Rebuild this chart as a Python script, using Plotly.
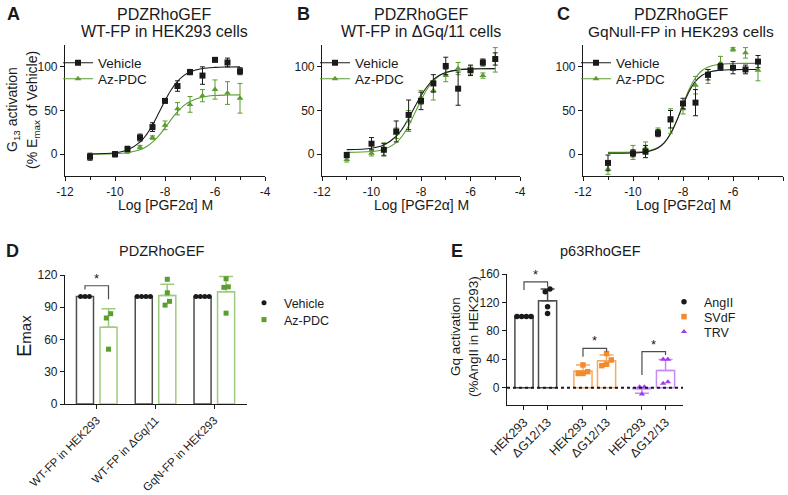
import numpy as np
import plotly.graph_objects as go

W, H = 788, 495
FONT = "Arial, 'Liberation Sans', sans-serif"
INK = "#1a1a1a"
GREY = "#4d4d4d"
GREEN = "#5a9e2f"
GREEN_LIGHT = "#9dcc7e"
ORANGE = "#f28b2c"
ORANGE_LIGHT = "#f6a965"
PURPLE = "#a33cf0"
PURPLE_LIGHT = "#c68cf3"

# ---------------- data: concentration-response panels A-C ----------------
log_dose = [-11, -10, -9.5, -9, -8.5, -8, -7.5, -7, -6.5, -6, -5.5, -5]
fit_x = [-11, -10, -9.5, -9, -8.75, -8.5, -8.25, -8, -7.75, -7.5, -7.25, -7, -6.5, -6, -5.5, -5]

a_veh = [-3, 0, 6, 19, 31, 61, 78, 94, 90, 108, 105, 95]
a_veh_err = [4, 3, 3, 4, 5, 2, 6, 3, 10, 2, 5, 4]
a_az = [-2, -1, 3, 8, 19, 33, 52, 57, 67, 74, 70, 64]
a_az_err = [3, 2, 2, 2, 2, 5, 7, 9, 7, 11, 13, 17]
a_veh_fit = [0.2, 1.6, 4.8, 13.7, 22, 33.4, 47.1, 61.3, 73.8, 83.4, 89.9, 94.1, 98, 99.4, 99.8, 99.9]
a_az_fit = [0.1, 0.5, 1.7, 5, 8.4, 13.7, 21, 30.1, 39.8, 48.6, 55.6, 60.4, 65.4, 67.2, 67.7, 67.9]

b_veh = [-1, 12, 5, 26, 45, 61, 81, 101, 75, 96, 105, 109]
b_veh_err = [3, 7, 7, 12, 17, 10, 10, 10, 19, 6, 4, 7]
b_az = [-6, 1, 6, 24, 38, 65, 73, 90, 98, 96, 90, 108]
b_az_err = [3, 3, 7, 6, 12, 8, 11, 7, 7, 5, 3, 14]
b_veh_fit = [5.2, 6.8, 10.5, 20.5, 29.3, 41, 54.2, 67, 77.5, 85.3, 90.4, 93.6, 96.5, 97.5, 97.8, 98]
b_az_fit = [2.1, 3, 5.4, 13.2, 21.1, 32.6, 47, 61.9, 74.7, 84, 90, 93.6, 96.7, 97.6, 97.9, 98]

c_veh = [-10, 1, 3, 24, 40, 58, 59, 91, 100, 99, 97, 106]
c_veh_err = [9, 4, 7, 4, 10, 6, 15, 6, 4, 7, 5, 7]
c_az = [-17, 2, 7, 26, 38, 52, 79, 89, 104, 120, 116, 96]
c_az_err = [6, 8, 7, 4, 14, 6, 10, 8, 8, 2, 6, 12]
c_veh_fit = [1, 1.3, 2.4, 7.1, 13, 23.3, 38.4, 56.1, 72, 83.3, 90, 93.6, 96.2, 96.8, 97, 97]
c_az_fit = [2, 2.3, 3.3, 7.6, 13.2, 23, 38.2, 56.8, 74.5, 87.5, 95.5, 99.8, 103, 103.8, 104, 104]

dose_ticks = [-12, -10, -8, -6, -4]

# ---------------- data: panel D (Emax) ----------------
d_groups = ["WT-FP in HEK293", "WT-FP in \u0394Gq/11", "GqN-FP in HEK293"]
d_veh_mean = [100, 100, 100]
d_veh_pts = [[100, 100, 100], [100, 100, 100, 100], [100, 100, 100, 100]]
d_az_mean = [71.5, 101, 104.5]
d_az_sd = [17, 10.5, 14]
d_az_pts = [[84, 80, 51], [116, 103.5, 95.5, 92], [116.5, 109, 108.5, 84.5]]

# ---------------- data: panel E (p63RhoGEF) ----------------
e_cells = ["HEK293", "\u0394G12/13"]
e_ligands = ["AngII", "SVdF", "TRV"]
e_mean = [[100, 122.5], [23.5, 38], [-1.5, 24]]
e_sd = [[0, 16.5], [8.5, 8], [6.5, 15.5]]
e_pts = [
    [[100, 100, 100, 100], [139, 135, 114, 104.5]],
    [[32, 22.5, 20, 20], [48, 39, 31, 33]],
    [[1, -9, 1], [40, 40, 6, 8]],
]

# significance brackets: (group, left foot, top, right foot)
d_brackets = [(0, 106.5, 110, 97.5)]
e_brackets = [(0, 137.5, 149, 142), (1, 43.6, 55.4, 50.7), (2, 17.8, 50.7, 46)]


def fx(x):
    return x / W


def fy(y):
    return 1 - y / H


def swarm(vals, thr, step):
    """simple beeswarm: spread clustered values horizontally"""
    order = np.argsort(vals)
    offs = np.zeros(len(vals))
    cluster = [order[0]]
    for i in order[1:]:
        if abs(vals[i] - vals[cluster[-1]]) < thr:
            cluster.append(i)
        else:
            n = len(cluster)
            for k, j in enumerate(cluster):
                offs[j] = (k - (n - 1) / 2) * step
            cluster = [i]
    n = len(cluster)
    for k, j in enumerate(cluster):
        offs[j] = (k - (n - 1) / 2) * step
    return offs


fig = go.Figure()
annotations = []
shapes = []
legends = {}
leg_count = [0]


def label(x, y, s, size, rot=0, bold=False, xanchor="center", yanchor="middle"):
    annotations.append(dict(
        xref="paper", yref="paper", x=fx(x), y=fy(y), text=f"<b>{s}</b>" if bold else s,
        showarrow=False, textangle=rot, xanchor=xanchor, yanchor=yanchor,
        font=dict(family=FONT, size=size, color=INK)))


def new_legend(x, y, size):
    """one legend box per entry so the entries can be spaced like the original"""
    leg_count[0] += 1
    name = "legend" if leg_count[0] == 1 else f"legend{leg_count[0]}"
    legends[name] = dict(bgcolor="rgba(0,0,0,0)", itemwidth=30, x=fx(x), y=fy(y),
                         xanchor="left", yanchor="middle",
                         font=dict(family=FONT, size=size, color=INK))
    return name


# ---------------- panels A-C ----------------
panels = [
    ("", 58, a_veh, a_veh_err, a_az, a_az_err, a_veh_fit, a_az_fit),
    ("2", 315, b_veh, b_veh_err, b_az, b_az_err, b_veh_fit, b_az_fit),
    ("3", 576, c_veh, c_veh_err, c_az, c_az_err, c_veh_fit, c_az_fit),
]
for n, leg_x, veh, veh_err, az, az_err, veh_fit, az_fit in panels:
    ax = dict(xaxis="x" + n, yaxis="y" + n)
    fig.add_trace(go.Scatter(x=fit_x, y=az_fit, mode="lines", showlegend=False,
                             line=dict(color=GREEN, width=1.1, shape="spline"), **ax))
    fig.add_trace(go.Scatter(x=fit_x, y=veh_fit, mode="lines", showlegend=False,
                             line=dict(color=INK, width=1.1, shape="spline"), **ax))
    fig.add_trace(go.Scatter(
        x=log_dose, y=az, mode="markers", showlegend=False,
        marker=dict(symbol="triangle-up", size=6, color=GREEN),
        error_y=dict(type="data", array=az_err, color=GREEN, thickness=1, width=2.5), **ax))
    fig.add_trace(go.Scatter(
        x=log_dose, y=veh, mode="markers", showlegend=False,
        marker=dict(symbol="square", size=6, color=INK),
        error_y=dict(type="data", array=veh_err, color=INK, thickness=1, width=2.5), **ax))
    # legend entries
    fig.add_trace(go.Scatter(x=[None], y=[None], mode="lines+markers", name="Vehicle",
                             legend=new_legend(leg_x, 63, 13.5),
                             marker=dict(symbol="square", size=6, color=INK),
                             line=dict(color=INK, width=1.1), **ax))
    fig.add_trace(go.Scatter(x=[None], y=[None], mode="lines+markers", name="Az-PDC",
                             legend=new_legend(leg_x, 79, 13.5),
                             marker=dict(symbol="triangle-up", size=6, color=GREEN),
                             line=dict(color=GREEN, width=1.1), **ax))

# ---------------- panel D ----------------
d_x = np.arange(len(d_groups))
BW_D = 0.29
fig.add_trace(go.Bar(x=d_x, y=d_veh_mean, width=BW_D, offset=-0.345, showlegend=False,
                     marker=dict(color="white", line=dict(color=GREY, width=1.5)),
                     xaxis="x4", yaxis="y4"))
fig.add_trace(go.Bar(x=d_x, y=d_az_mean, width=BW_D, offset=0.055, showlegend=False,
                     marker=dict(color="white", line=dict(color=GREEN_LIGHT, width=1.5)),
                     error_y=dict(type="data", symmetric=False, array=d_az_sd,
                                  arrayminus=[0] * len(d_az_sd), color=GREEN_LIGHT,
                                  thickness=1.5, width=7),
                     xaxis="x4", yaxis="y4"))
veh_c = -0.345 + BW_D / 2
az_c = 0.055 + BW_D / 2
px_v, py_v, px_a, py_a = [], [], [], []
for g in range(len(d_groups)):
    offs = swarm(d_veh_pts[g], 5, 0.075)
    px_v += list(g + veh_c + offs)
    py_v += d_veh_pts[g]
    offs = swarm(d_az_pts[g], 5, 0.075)
    px_a += list(g + az_c + offs)
    py_a += d_az_pts[g]
fig.add_trace(go.Scatter(x=px_v, y=py_v, mode="markers", name="Vehicle",
                         legend=new_legend(244, 303, 12.5),
                         marker=dict(symbol="circle", size=5, color=INK), xaxis="x4", yaxis="y4"))
fig.add_trace(go.Scatter(x=px_a, y=py_a, mode="markers", name="Az-PDC",
                         legend=new_legend(244, 320, 12.5),
                         marker=dict(symbol="square", size=5, color=GREEN), xaxis="x4", yaxis="y4"))

for g, y0, ytop, y1 in d_brackets:
    x0, x1 = g + veh_c, g + az_c
    shapes.append(dict(type="path", xref="x4", yref="y4",
                       path=f"M {x0},{y0} L {x0},{ytop} L {x1},{ytop} L {x1},{y1}",
                       line=dict(color=GREY, width=1.2)))
    annotations.append(dict(xref="x4", yref="y4", x=(x0 + x1) / 2, y=ytop, text="*",
                            showarrow=False, yanchor="bottom", yshift=-2,
                            font=dict(family=FONT, size=13, color=INK)))

# ---------------- panel E ----------------
e_colors = [INK, ORANGE, PURPLE]
e_lines = [GREY, ORANGE_LIGHT, PURPLE_LIGHT]
e_symbols = ["circle", "square", "triangle-up"]
BW_E = 0.77
e_pos = []
for li, lig in enumerate(e_ligands):
    pos = [li * 2.5 + ci for ci in range(len(e_cells))]
    e_pos += pos
    up = [s if m >= 0 else 0 for m, s in zip(e_mean[li], e_sd[li])]
    down = [s if m < 0 else 0 for m, s in zip(e_mean[li], e_sd[li])]
    fig.add_trace(go.Bar(x=pos, y=e_mean[li], width=BW_E, showlegend=False,
                         marker=dict(color="white", line=dict(color=e_lines[li], width=1.5)),
                         error_y=dict(type="data", symmetric=False, array=up, arrayminus=down,
                                      color=e_lines[li], thickness=1.5, width=7),
                         xaxis="x5", yaxis="y5"))
    xs, ys = [], []
    for ci in range(len(e_cells)):
        offs = swarm(e_pts[li][ci], 7, 0.2)
        xs += list(pos[ci] + offs)
        ys += e_pts[li][ci]
    fig.add_trace(go.Scatter(x=xs, y=ys, mode="markers", name=lig,
                             legend=new_legend(664, 302 + 15 * li, 12.5),
                             marker=dict(symbol=e_symbols[li], size=5.5, color=e_colors[li]),
                             xaxis="x5", yaxis="y5"))
    g, y0, ytop, y1 = e_brackets[li]
    x0, x1 = pos
    shapes.append(dict(type="path", xref="x5", yref="y5",
                       path=f"M {x0},{y0} L {x0},{ytop} L {x1},{ytop} L {x1},{y1}",
                       line=dict(color=GREY, width=1.2)))
    annotations.append(dict(xref="x5", yref="y5", x=(x0 + x1) / 2, y=ytop, text="*",
                            showarrow=False, yanchor="bottom", yshift=-2,
                            font=dict(family=FONT, size=13, color=INK)))

shapes.append(dict(type="line", xref="x5 domain", yref="y5", x0=0, x1=1, y0=0, y1=0,
                   line=dict(color=INK, width=2, dash="dot"), layer="above"))

# ---------------- axes ----------------
base = dict(showline=True, linecolor=INK, linewidth=1.2, ticks="outside", ticklen=4,
            tickwidth=1.2, tickcolor=INK, showgrid=False, zeroline=False, automargin=False,
            tickfont=dict(family=FONT, size=12, color=INK))
layout_axes = {}
for n, (xa, xb) in zip(["", "2", "3"], [(65, 265), (322, 520), (583, 783)]):
    layout_axes["xaxis" + n] = dict(base, domain=[fx(xa), fx(xb)], range=[-12, -4],
                                    tickvals=dose_ticks, ticktext=[str(t) for t in dose_ticks],
                                    minor=dict(ticks="outside", ticklen=3, tickwidth=1.2,
                                               tickcolor=INK, dtick=1, tick0=-12, showgrid=False),
                                    anchor="y" + n)
    layout_axes["yaxis" + n] = dict(base, domain=[fy(176), fy(45)], range=[-25, 125],
                                    tickvals=[0, 50, 100], anchor="x" + n)
layout_axes["xaxis4"] = dict(base, domain=[fx(65), fx(247)], range=[-0.54, 2.556],
                             tickvals=list(d_x), ticktext=d_groups, tickangle=-45, anchor="y4",
                             tickfont=dict(family=FONT, size=11.5, color=INK))
layout_axes["yaxis4"] = dict(base, domain=[fy(404), fy(275)], range=[0, 120],
                             tickvals=[0, 30, 60, 90, 120], anchor="x4")
layout_axes["xaxis5"] = dict(base, domain=[fx(507), fx(683)], range=[-0.72, 6.74],
                             tickvals=e_pos, ticktext=e_cells * len(e_ligands), tickangle=-45,
                             anchor="y5", tickfont=dict(family=FONT, size=12.5, color=INK))
layout_axes["yaxis5"] = dict(base, domain=[fy(405), fy(274)], range=[-24.4, 160],
                             tickvals=[0, 40, 80, 120, 160], anchor="x5")

# ---------------- text ----------------
label(13, 14, "A", 18, bold=True)
label(303, 14, "B", 18, bold=True)
label(563, 14, "C", 18, bold=True)
label(12, 251, "D", 18, bold=True)
label(457, 251, "E", 18, bold=True)

label(164, 15, "PDZRhoGEF", 16)
label(164, 32, "WT-FP in HEK293 cells", 16)
label(421, 15, "PDZRhoGEF", 16)
label(421, 32, "WT-FP in \u0394Gq/11 cells", 16)
label(681, 15, "PDZRhoGEF", 16)
label(681, 32, "GqNull-FP in HEK293 cells", 15.5)
label(162, 251, "PDZRhoGEF", 14.5)
label(600, 251, "p63RhoGEF", 14.5)

for xc in (165, 421, 683):
    label(xc, 205, "Log [PGF2\u03b1] M", 14)
label(13, 110, "G<sub>13</sub> activation", 14, rot=-90)
label(33, 110, "(% E<sub>max</sub> of Vehicle)", 14, rot=-90)
label(24, 336, "E<span style='font-size:15px'>max</span>", 20, rot=-90)
label(455, 337, "Gq activation", 13.5, rot=-90)
label(473, 337, "(%AngII in HEK293)", 13.5, rot=-90)

fig.update_layout(
    width=W, height=H, margin=dict(l=0, r=0, t=0, b=0, autoexpand=False),
    paper_bgcolor="white", plot_bgcolor="white",
    font=dict(family=FONT, color=INK), barmode="overlay",
    annotations=annotations, shapes=shapes, **layout_axes, **legends,
)

# the page body has a default 8px margin; drop it so the figure sits at the window origin
fig.write_html("out.html", config={"displayModeBar": False},
               post_script="document.body.style.margin='0';")
